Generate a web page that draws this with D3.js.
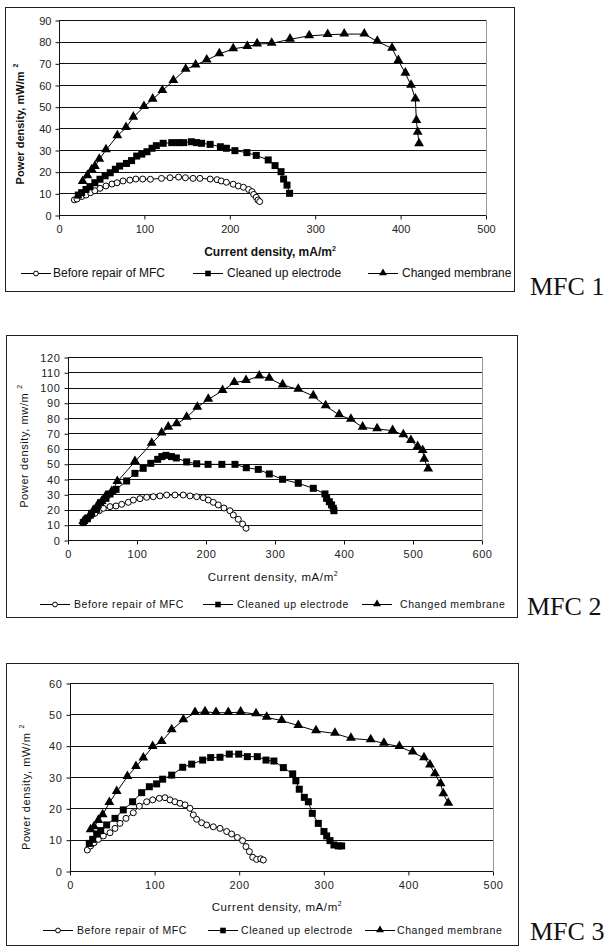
<!DOCTYPE html>
<html>
<head>
<meta charset="utf-8">
<script src="https://cdn.jsdelivr.net/npm/d3@7"></script>
<style>
  body { margin: 0; background: #fff; }
  svg { display: block; }
</style>
</head>
<body>
<script>
// series names and panel labels
var seriesNames = ["Before repair of MFC", "Cleaned up electrode", "Changed membrane"];
var panelLabels = ["MFC 1", "MFC 2", "MFC 3"];

// tick labels
var mfc1XTicks = [0, 100, 200, 300, 400, 500];
var mfc1YTicks = [0, 10, 20, 30, 40, 50, 60, 70, 80, 90];
var mfc2XTicks = [0, 100, 200, 300, 400, 500, 600];
var mfc2YTicks = [0, 10, 20, 30, 40, 50, 60, 70, 80, 90, 100, 110, 120];
var mfc3XTicks = [0, 100, 200, 300, 400, 500];
var mfc3YTicks = [0, 10, 20, 30, 40, 50, 60];

// MFC 1: [current density mA/m2, power density mW/m2]
var mfc1Before = [[18,7],[21,7.4],[26.5,8.5],[31.6,9.2],[37,10.3],[42,11.2],[48,12.3],[55,13.4],
  [62,14.3],[68,14.9],[75,15.7],[83,16.1],[90,16.6],[98,16.6],[107,16.5],[120,16.9],[130,17.2],
  [140,17.5],[148,17.2],[157,16.9],[165,16.9],[177,16.6],[185,16.3],[190,15.7],[196,15.1],
  [204,14.2],[210,13.4],[216,12.8],[222,11.8],[226,10.8],[228,9.5],[231,8.2],[233,6.9],[235,6.2]];
var mfc1Cleaned = [[22.6,9.2],[26.5,10.3],[31.6,11.8],[36.3,13.1],[42,14.9],[48,16.5],[54,18.1],
  [60,19.5],[66,21.1],[71,22.6],[79,23.8],[85,25.1],[91,27.2],[97,28.1],[103,29.2],[109,30.8],
  [114,32],[122,33.1],[132,33.4],[140,33.4],[146,33.4],[155,33.8],[161,33.4],[167,33.1],
  [177,32.6],[189,31.5],[196,30.8],[206,29.7],[220,28.8],[231,27.5],[245,25.4],[253,22.8],
  [260,20],[263,16.6],[267,13.8],[270,10]];
var mfc1Membrane = [[27.7,15.4],[33.2,18.1],[38.3,20.8],[42,22.3],[47.2,25.7],[55,30],[68.3,36.5],
  [78.5,40.3],[87,45.1],[99.5,50],[109.7,53.4],[121,57.4],[133.9,62],[148.3,67.2],[160,69.2],
  [173,71.5],[187.7,74.3],[204,76.7],[220.5,77.7],[232,78.9],[249,79.2],[270.5,81.1],[293,82.7],
  [314.6,83.2],[334,83.5],[357.5,83.5],[372.7,80.1],[390,76.9],[397.4,71.2],[405.6,65.4],
  [412.2,59.8],[417.3,53.5],[418.5,43.5],[420,38.1],[421.6,32.8]];

// MFC 2
var mfc2Before = [[22.2,11.4],[26,13.1],[29.5,14.6],[34.3,16.4],[39,17.5],[45.4,19.2],[51.2,20.8],
  [60.9,21.9],[69.6,22.3],[77.8,23.4],[87.4,24.7],[94.7,26.2],[104.3,27.1],[114,28],[123.6,28.4],
  [133.3,28.9],[143,29.5],[155,29.5],[167,29.5],[176.8,28.9],[186.5,28.4],[196,27.8],[203.3,26.2],
  [210.6,24.7],[217.8,23],[226,21],[234.7,19.2],[239.6,16.4],[246.8,13.6],[253,10.5],[258,7.7]];
var mfc2Cleaned = [[22.2,11.4],[28,14.2],[34.3,17.5],[41.5,20.1],[47.3,24.5],[55,27.3],[60.9,30.2],
  [69.6,33.2],[85,38.7],[97,43.7],[109,47],[120,50.3],[130,52.9],[136,54.7],[142,55.5],[150,54.7],
  [157,53.8],[172,51.2],[186.5,50],[203,49.6],[223,49.6],[242,49.6],[258.4,47.4],[275.8,46.3],
  [291.7,43.3],[311,39.8],[333.7,37.2],[355.5,33.9],[372.4,30.2],[374.8,27.3],[378.7,25.1],
  [382,23],[384.5,20.8],[385.4,19.2]];
var mfc2Membrane = [[22.2,12],[26,13.1],[30.9,15.7],[36.7,19.2],[42.5,22.3],[48.8,25.1],[55,28.9],
  [63.3,31.7],[71.5,38.3],[97,51.4],[121.3,63.4],[135.7,70],[145.3,73.9],[157.5,76.1],[172,80.4],
  [187.4,87],[203.3,92.2],[224,97.9],[241,103.2],[258,104.5],[277.2,107.5],[291.7,106],
  [311,101.6],[333.7,98.8],[355.5,94.4],[373.4,87.9],[393,82],[410,79.1],[427,73.9],[448,72.8],
  [470.5,71.7],[486,68.9],[497,65.1],[506.7,61.2],[514,58.6],[516.3,52.9],[522,46.5]];

// MFC 3
var mfc3Before = [[20.5,6.7],[24.4,8],[28.4,9],[33.5,10.1],[39.4,11.2],[47.3,12.2],[53.2,13.6],
  [59.1,15.2],[66.2,16.8],[74.8,18.6],[82,20.7],[90.6,22.1],[97.7,22.7],[105.6,23.2],[112.3,23.4],
  [118.2,22.7],[124,22.1],[130,21.6],[136,21.1],[141.8,20],[145.8,17.9],[149.7,16.5],[155.6,15.4],
  [161.5,14.7],[169.4,14.1],[177.3,13.6],[185.2,12.6],[191,11.8],[197.8,10.7],[204,9.7],[208,7.8],
  [212,6.2],[216,4.4],[220.6,3.7],[225.4,3.9],[228.5,3.5]];
var mfc3Cleaned = [[22.8,8.8],[26.8,10.1],[31.5,11.8],[36.3,12.9],[43.3,14.7],[53.2,16.8],[63,19.5],
  [74,22.1],[84.7,25],[93.8,26.9],[102.4,27.8],[109.5,29.3],[120.2,30.6],[133.2,33.1],[143.8,34.1],
  [156.8,35.4],[166.3,36.2],[177.3,36.3],[188.3,37.3],[199.4,37.3],[209.6,36.5],[221.4,36.5],
  [231.7,35.4],[241,35.1],[252.2,33],[263.2,31],[267,28.8],[271,26.1],[277,23.5],[281.7,22.1],
  [286.4,18.4],[293.5,15.2],[300.2,12.6],[303.4,11.2],[307.3,9.7],[312,8.3],[317.2,8],[321.1,8]];
var mfc3Membrane = [[24.4,13.1],[28.4,14.1],[33.5,16.1],[38.6,17.9],[46.5,21.8],[55.2,25.3],
  [67.8,30.1],[78,33.3],[86.7,36],[97.7,39.7],[108.4,41.3],[120.2,45],[134,48.2],[147.8,50.5],
  [159.6,50.8],[172.6,50.5],[187.1,50.5],[201.7,50.7],[219.9,50.1],[232.5,49],[250.2,48],
  [269.9,46.4],[290.8,44.7],[313.2,43.9],[332.1,42.3],[355.4,41.8],[371.1,40.7],[389.3,39.7],
  [405,37.9],[418.4,36.1],[425.5,33.8],[431.4,31],[438.1,27.8],[441.3,24.6],[447.2,21.6]];

var svg = d3.select("body").append("svg")
    .attr("width", 605)
    .attr("height", 946);

var sansFont = "Arial, 'Liberation Sans', sans-serif";

function drawMarker(g, kind, x, y, s){
    s = s || 1;
    if(kind == 0){
        g.append("circle")
            .attr("cx", x).attr("cy", y).attr("r", 3 * s)
            .attr("fill", "#fff").attr("stroke", "#000").attr("stroke-width", 1);
    } else if(kind == 1){
        g.append("rect")
            .attr("x", x - 3.5 * s).attr("y", y - 3.5 * s)
            .attr("width", 7 * s).attr("height", 7 * s)
            .attr("fill", "#000");
    } else {
        g.append("path")
            .attr("d", d3.symbol().type(d3.symbolTriangle).size(42 * s * s)())
            .attr("transform", "translate(" + x + "," + (y - 0.5) + ")")
            .attr("fill", "#000");
    }
}

function drawPanel(p){
    var g = svg.append("g");

    // outer frame
    g.append("rect")
        .attr("x", p.frame[0] + 0.5).attr("y", p.frame[1] + 0.5)
        .attr("width", p.frame[2]).attr("height", p.frame[3])
        .attr("fill", "#fff").attr("stroke", "#222").attr("stroke-width", 1);

    var x = d3.scaleLinear().domain(p.xDomain).range([p.plot.left, p.plot.right]);
    var y = d3.scaleLinear().domain(p.yDomain).range([p.plot.bottom, p.plot.top]);

    // plot area right edge
    g.append("line")
        .attr("x1", p.plot.right + 0.5).attr("x2", p.plot.right + 0.5)
        .attr("y1", p.plot.top).attr("y2", p.plot.bottom)
        .attr("stroke", "#999");

    // gridlines
    g.selectAll(".grid").data(p.yTicks.slice(1)).enter().append("line")
        .attr("x1", p.plot.left).attr("x2", p.plot.right)
        .attr("y1", function(d){ return Math.round(y(d)) + 0.5; })
        .attr("y2", function(d){ return Math.round(y(d)) + 0.5; })
        .attr("stroke", "#111").attr("stroke-width", 1);

    // axes
    var yAxis = d3.axisLeft(y).tickValues(p.yTicks).tickSize(4).tickPadding(4);
    var xAxis = d3.axisBottom(x).tickValues(p.xTicks).tickSize(4).tickPadding(6);

    var ya = g.append("g").attr("transform", "translate(" + (p.plot.left + 0.5) + ",0.5)").call(yAxis);
    var xa = g.append("g").attr("transform", "translate(0," + (p.plot.bottom + 0.5) + ")").call(xAxis);
    [ya, xa].forEach(function(a){
        a.selectAll("path, line").attr("stroke", "#111");
        a.selectAll("text")
            .attr("font-family", sansFont)
            .attr("font-size", 11)
            .attr("fill", "#222")
            .attr("letter-spacing", p.spacing);
        a.attr("font-family", null);
    });
    ya.select(".domain").attr("d", "M0," + p.plot.bottom + "V" + p.plot.top);
    xa.select(".domain").attr("d", "M" + p.plot.left + ",0H" + p.plot.right);

    // axis titles
    var xt = g.append("text")
        .attr("x", p.xTitle[0]).attr("y", p.xTitle[1])
        .attr("text-anchor", "middle")
        .attr("font-family", sansFont)
        .attr("font-size", p.bold ? 12 : 11.5)
        .attr("font-weight", p.bold ? "bold" : "normal")
        .attr("letter-spacing", p.spacing)
        .attr("fill", "#111");
    xt.append("tspan").text(p.xTitleText);
    xt.append("tspan").attr("font-size", 7).attr("dy", -5).text("2");

    var yt = g.append("text")
        .attr("transform", "translate(" + p.yTitle[0] + "," + p.yTitle[1] + ") rotate(-90)")
        .attr("text-anchor", "middle")
        .attr("font-family", sansFont)
        .attr("font-size", 11)
        .attr("font-weight", p.bold ? "bold" : "normal")
        .attr("letter-spacing", p.spacing)
        .attr("fill", "#111");
    yt.append("tspan").text(p.yTitleText);
    yt.append("tspan").attr("font-size", 7).attr("dx", 4).attr("dy", -6).text("2");

    // series lines and markers
    var line = d3.line()
        .x(function(d){ return x(d[0]); })
        .y(function(d){ return y(d[1]); });

    p.series.forEach(function(s){
        g.append("path")
            .attr("d", line(s))
            .attr("fill", "none")
            .attr("stroke", "#000")
            .attr("stroke-width", 1);
    });
    p.series.forEach(function(s, i){
        s.forEach(function(d){
            drawMarker(g, i, x(d[0]), y(d[1]));
        });
    });

    // legend
    seriesNames.forEach(function(name, i){
        var lx = p.legendX[i];
        g.append("line")
            .attr("x1", lx).attr("x2", lx + 30)
            .attr("y1", p.legendY - 3.5).attr("y2", p.legendY - 3.5)
            .attr("stroke", "#000");
        drawMarker(g, i, lx + 15, p.legendY - 3.5, 0.8);
        g.append("text")
            .attr("x", p.legendTextX[i]).attr("y", p.legendY)
            .attr("font-family", sansFont)
            .attr("font-size", p.legendSize)
            .attr("letter-spacing", p.spacing)
            .attr("fill", "#111")
            .text(name);
    });

    // panel label
    g.append("text")
        .attr("x", p.label[0]).attr("y", p.label[1])
        .attr("font-family", "'Times New Roman', 'Liberation Serif', serif")
        .attr("font-size", 26)
        .attr("fill", "#111")
        .text(p.labelText);
}

drawPanel({
    frame: [5, 7, 509, 284],
    plot: {left: 59, right: 486, top: 20, bottom: 215},
    xDomain: [0, 500], yDomain: [0, 90],
    xTicks: mfc1XTicks, yTicks: mfc1YTicks,
    series: [mfc1Before, mfc1Cleaned, mfc1Membrane],
    xTitle: [270, 256], xTitleText: "Current density, mA/m",
    yTitle: [24, 124], yTitleText: "Power density, mW/m",
    bold: true, spacing: 0,
    legendX: [21, 193, 368], legendTextX: [53, 227, 402], legendY: 277, legendSize: 12,
    label: [530, 295], labelText: panelLabels[0]
});

drawPanel({
    frame: [6, 335, 511, 282],
    plot: {left: 68, right: 482, top: 357, bottom: 540},
    xDomain: [0, 600], yDomain: [0, 120],
    xTicks: mfc2XTicks, yTicks: mfc2YTicks,
    series: [mfc2Before, mfc2Cleaned, mfc2Membrane],
    xTitle: [273, 581], xTitleText: "Current density, mA/m",
    yTitle: [28, 446], yTitleText: "Power density, mw/m",
    bold: false, spacing: 0.6,
    legendX: [40, 203, 362], legendTextX: [74, 237, 400], legendY: 608, legendSize: 10.5,
    label: [527, 615], labelText: panelLabels[1]
});

drawPanel({
    frame: [6, 663, 512, 282],
    plot: {left: 70, right: 493, top: 683, bottom: 871},
    xDomain: [0, 500], yDomain: [0, 60],
    xTicks: mfc3XTicks, yTicks: mfc3YTicks,
    series: [mfc3Before, mfc3Cleaned, mfc3Membrane],
    xTitle: [277, 911], xTitleText: "Current density, mA/m",
    yTitle: [30, 787], yTitleText: "Power density, mW/m",
    bold: false, spacing: 0.6,
    legendX: [43, 208, 365], legendTextX: [77, 241, 397], legendY: 934, legendSize: 10.5,
    label: [530, 940], labelText: panelLabels[2]
});
</script>
</body>
</html>
